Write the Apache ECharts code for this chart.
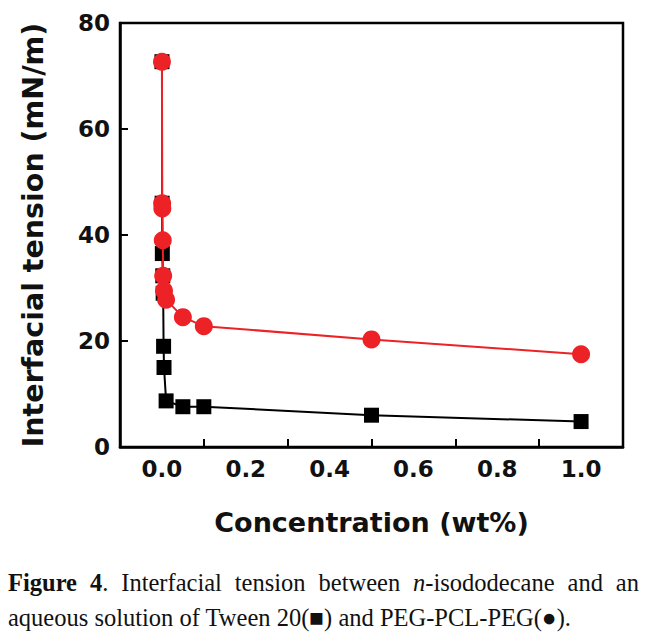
<!DOCTYPE html>
<html>
<head>
<meta charset="utf-8">
<script src="https://cdn.jsdelivr.net/npm/echarts@6/dist/echarts.min.js"></script>
<style>
html,body{margin:0;padding:0;background:#fff;}
#chart{width:652px;height:639px;position:absolute;left:0;top:0;}
.cap{position:absolute;left:8px;width:631px;font-family:"Liberation Serif","Times New Roman",serif;font-size:24.5px;line-height:30px;color:#111;white-space:nowrap;}
#cap1{top:568px;text-align:justify;text-align-last:justify;white-space:normal;}
#cap2{top:603px;}
</style>
</head>
<body>
<div id="chart"></div>
<div class="cap" id="cap1"><b>Figure 4</b>. Interfacial tension between <i>n</i>-isododecane and an</div>
<div class="cap" id="cap2">aqueous solution of Tween 20(&#9632;) and PEG-PCL-PEG(&#9679;).</div>
<script>
const xTicks = [0.0, 0.2, 0.4, 0.6, 0.8, 1.0];
const yTicks = [0, 20, 40, 60, 80];
const concTween = [0.0001, 0.0005, 0.001, 0.002, 0.003, 0.004, 0.005, 0.01, 0.05, 0.1, 0.5, 1.0];
const tensionTween = [72.7, 46.0, 36.5, 32.3, 29.0, 19.0, 15.0, 8.7, 7.6, 7.6, 6.0, 4.8];
const concPeg = [0.0001, 0.0005, 0.001, 0.002, 0.003, 0.005, 0.01, 0.05, 0.1, 0.5, 1.0];
const tensionPeg = [72.7, 46.0, 45.0, 39.0, 32.3, 29.5, 27.8, 24.5, 22.8, 20.3, 17.5];

const chart = echarts.init(document.getElementById('chart'), null, {renderer: 'svg'});
const font = '"DejaVu Sans", sans-serif';
chart.setOption({
  animation: false,
  backgroundColor: '#fff',
  grid: {left: 120, right: 29, top: 23, bottom: 192, show: true, borderColor: '#000', borderWidth: 2.5, backgroundColor: 'transparent'},
  xAxis: {
    type: 'value', min: -0.1, max: 1.1, interval: 0.2,
    name: 'Concentration (wt%)', nameLocation: 'middle', nameGap: 62,
    nameTextStyle: {fontFamily: font, fontWeight: 'bold', fontSize: 27, color: '#111'},
    axisLine: {show: true, onZero: false, lineStyle: {color: '#000', width: 2.5}},
    axisTick: {show: true, inside: true, length: 8, lineStyle: {color: '#000', width: 2}},
    axisLabel: {fontFamily: font, fontWeight: 'bold', fontSize: 23, color: '#111', margin: 10,
      customValues: xTicks, formatter: v => v.toFixed(1)},
    splitLine: {show: false}
  },
  yAxis: {
    type: 'value', min: 0, max: 80, interval: 20,
    name: 'Interfacial tension (mN/m)', nameLocation: 'middle', nameGap: 72,
    nameTextStyle: {fontFamily: font, fontWeight: 'bold', fontSize: 28.5, color: '#111'},
    axisLine: {show: true, onZero: false, lineStyle: {color: '#000', width: 2.5}},
    axisTick: {show: true, inside: true, length: 8, lineStyle: {color: '#000', width: 2}},
    axisLabel: {fontFamily: font, fontWeight: 'bold', fontSize: 23, color: '#111', margin: 10,
      customValues: yTicks},
    splitLine: {show: false}
  },
  series: [
    {
      name: 'Tween 20', type: 'line', symbol: 'rect', symbolSize: 15,
      data: concTween.map((c, i) => [c, tensionTween[i]]),
      lineStyle: {color: '#000', width: 2}, itemStyle: {color: '#000'}, z: 2
    },
    {
      name: 'PEG-PCL-PEG', type: 'line', symbol: 'circle', symbolSize: 18,
      data: concPeg.map((c, i) => [c, tensionPeg[i]]),
      lineStyle: {color: '#ec2226', width: 2}, itemStyle: {color: '#ec2226'}, z: 3
    }
  ]
});
</script>
</body>
</html>
